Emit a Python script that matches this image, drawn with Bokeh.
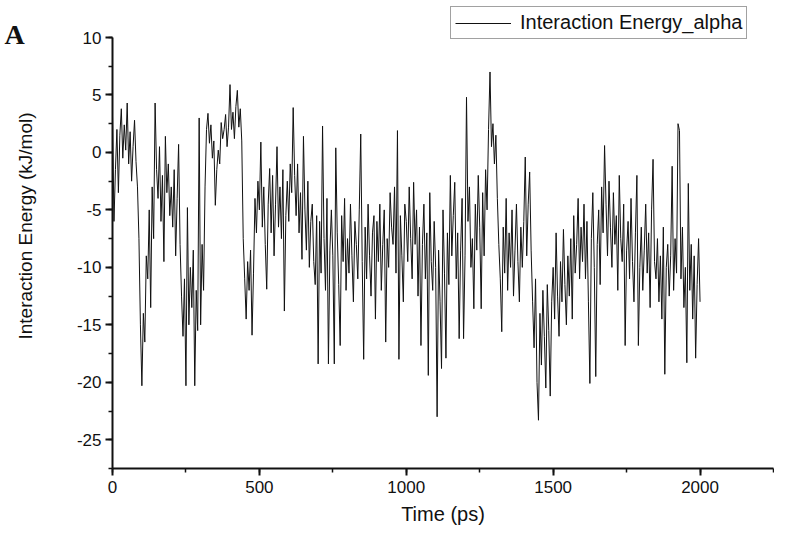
import math
from bokeh.plotting import figure
from bokeh.models import SingleIntervalTicker, Label, Range1d
from bokeh.embed import file_html
from bokeh.resources import INLINE

# Sample spacing of the trajectory read-out (ps)
step_ps = 5

# Interaction energy (kJ/mol), 10 values per 50 ps block
e_0000 = [3.2, -6.0, -1.5, 2.0, -3.5, 1.5, 3.8, -0.5, 2.4, 0.2]
e_0050 = [4.3, -1.0, 1.8, -2.5, 0.5, 2.8, -0.8, -3.0, -7.5, -15.0]
e_0100 = [-20.3, -14.0, -16.5, -9.0, -11.0, -5.0, -13.5, -3.0, -7.5, 4.3]
e_0150 = [-1.5, -4.0, 0.5, -6.0, -2.0, -9.5, 1.4, -3.5, -1.0, -5.5]
e_0200 = [-3.0, -6.5, -1.5, -9.0, -4.0, 0.7, -8.0, -12.5, -16.0, -11.0]
e_0250 = [-20.3, -4.8, -15.0, -10.0, -13.5, -8.5, -20.3, -12.0, -15.5, 3.0]
e_0300 = [-15.0, -8.0, -12.0, -3.0, 2.0, 3.4, 0.8, 2.4, -0.5, 1.0]
e_0350 = [-4.6, -1.5, 0.2, -1.0, 2.6, 1.2, 2.0, 3.3, 0.5, 2.2]
e_0400 = [5.9, 2.0, 3.5, 1.2, 4.0, 5.4, 2.2, 3.8, 1.0, -7.5]
e_0450 = [-11.0, -14.5, -9.5, -12.0, -8.5, -15.9, -10.5, -4.0, -7.0, -2.5]
e_0500 = [-5.0, 0.9, -6.5, -3.0, -8.0, -11.9, -4.5, -1.4, -7.0, -2.0]
e_0550 = [-9.0, -4.5, 0.5, -6.5, -3.0, -7.5, -1.5, -13.8, -5.5, -2.5]
e_0600 = [-6.0, -1.0, -3.5, 3.9, -2.0, -5.5, -1.0, -7.0, -3.5, -9.3]
e_0650 = [1.4, -5.0, -8.5, -2.5, -10.0, -6.0, -4.5, -9.5, -11.5, -5.5]
e_0700 = [-18.4, -6.0, -10.5, 2.3, -7.5, -12.0, -4.0, -18.4, -8.5, -5.0]
e_0750 = [-9.0, -18.4, 0.4, -7.0, -11.5, -16.8, -5.5, -9.5, -4.0, -12.0]
e_0800 = [-7.5, -10.5, -4.5, -9.0, -13.0, -6.0, -8.0, -11.0, -5.0, 1.6]
e_0850 = [-9.5, -18.0, -6.5, -11.0, -4.5, -9.0, -12.5, -7.0, -5.5, -14.5]
e_0900 = [-6.0, -9.5, -4.5, -12.0, -8.0, -5.0, -16.5, -7.5, -10.0, -3.5]
e_0950 = [-6.5, -8.0, -3.0, -10.5, 1.9, -18.0, -5.5, -9.0, -13.0, -4.5]
e_1000 = [-6.0, -9.5, -3.0, -7.5, -11.0, -2.6, -8.0, -5.0, -12.5, -6.5]
e_1050 = [-16.8, -8.0, -4.5, -11.0, -7.0, -19.4, -3.5, -9.5, -12.0, -6.0]
e_1100 = [-10.0, -23.0, -8.5, -13.0, -18.8, -5.0, -10.5, -17.9, -7.0, -11.5]
e_1150 = [-2.0, -9.0, -5.5, -2.6, -11.0, -7.0, -16.2, -8.5, -4.0, -16.2]
e_1200 = [-9.0, 4.8, -6.0, -3.0, -10.0, -7.5, -13.6, -4.5, -8.5, -2.0]
e_1250 = [-6.5, -13.6, -3.5, -9.0, -1.5, -5.0, 2.0, 7.0, 0.5, 2.5]
e_1300 = [-1.0, 1.5, -4.0, -8.0, -11.0, -15.6, -6.5, -10.5, -4.0, -12.0]
e_1350 = [-7.0, -10.0, -5.0, -12.5, -8.5, -4.5, -9.5, -13.0, -6.5, -10.0]
e_1400 = [-6.0, -0.4, -9.0, -4.5, -1.7, -8.5, -13.0, -17.0, -11.0, -20.0]
e_1450 = [-23.3, -14.0, -18.5, -12.0, -16.0, -20.5, -11.5, -15.5, -21.2, -13.0]
e_1500 = [-10.0, -14.5, -7.0, -12.5, -16.0, -9.5, -13.0, -6.7, -11.5, -15.0]
e_1550 = [-9.0, -12.5, -7.5, -14.5, -5.5, -10.5, -8.0, -4.0, -11.0, -6.5]
e_1600 = [-9.5, -4.5, -11.0, -6.0, -13.0, -20.1, -7.5, -3.5, -10.0, -19.5]
e_1650 = [-8.0, -5.0, -11.5, -3.0, -7.0, 0.6, -4.5, -9.0, -2.5, -6.5]
e_1700 = [-10.0, -3.5, -8.0, -5.5, -12.0, -2.0, -7.5, -9.5, -4.5, -16.8]
e_1750 = [-8.5, -6.0, -11.0, -4.0, -9.5, -13.0, -7.0, -2.0, -16.8, -10.0]
e_1800 = [-6.5, -12.0, -8.5, -4.5, -10.5, -7.0, -13.5, -5.0, -0.6, -9.5]
e_1850 = [-11.0, -7.5, -13.0, -9.0, -14.5, -6.5, -19.3, -10.0, -8.0, -12.5]
e_1900 = [-9.0, -1.2, -12.0, -7.5, -10.5, 2.5, 1.9, -11.0, -6.5, -13.5]
e_1950 = [-10.0, -18.3, -2.7, -12.0, -8.0, -14.5, -9.0, -17.9, -11.5, -7.5]
e_2000 = [-13.0]

energy = (e_0000 + e_0050 + e_0100 + e_0150 + e_0200 + e_0250 + e_0300 + e_0350
          + e_0400 + e_0450 + e_0500 + e_0550 + e_0600 + e_0650 + e_0700 + e_0750
          + e_0800 + e_0850 + e_0900 + e_0950 + e_1000 + e_1050 + e_1100 + e_1150
          + e_1200 + e_1250 + e_1300 + e_1350 + e_1400 + e_1450 + e_1500 + e_1550
          + e_1600 + e_1650 + e_1700 + e_1750 + e_1800 + e_1850 + e_1900 + e_1950
          + e_2000)
time_ps = [i * step_ps for i in range(len(energy))]

# axis extents and ticks
x_min, x_max = 0, 2250
y_min, y_max = -27.5, 10
y_tick_values = [-25, -20, -15, -10, -5, 0, 5, 10]

series_name = "Interaction Energy_alpha"
x_title = "Time (ps)"
y_title = "Interaction Energy (kJ/mol)"
panel_tag = "A"

FONT = "Liberation Sans"
INK = "#111111"

W, H = 774, 526
# frame position of the axes box inside the figure (pixels)
left_px, right_px, top_px, bottom_px = 112, 773, 37, 468
xs = (right_px - left_px) / (x_max - x_min)
ys = (bottom_px - top_px) / (y_max - y_min)
x_range = Range1d(x_min - left_px / xs, x_max + (W - right_px) / xs)
y_range = Range1d(y_min - (H - bottom_px) / ys, y_max + top_px / ys)

p = figure(width=W, height=H, output_backend="svg", toolbar_location=None,
           x_range=x_range, y_range=y_range,
           min_border_left=0, min_border_right=0, min_border_top=0,
           min_border_bottom=0)
p.outline_line_color = None
p.xgrid.visible = False
p.ygrid.visible = False
p.background_fill_color = "white"
p.border_fill_color = "white"

p.line(time_ps, energy, line_color=INK, line_width=1, legend_label=series_name)

p.xaxis.ticker = SingleIntervalTicker(interval=500, num_minor_ticks=2)
p.yaxis.ticker = SingleIntervalTicker(interval=5, num_minor_ticks=2)
p.xaxis.fixed_location = y_min
p.yaxis.fixed_location = x_min
p.xaxis.bounds = (x_min, x_max)
p.yaxis.bounds = (y_min, y_max)
p.yaxis.major_label_overrides = {v: str(v) for v in y_tick_values}

for ax in (p.xaxis[0], p.yaxis[0]):
    ax.axis_line_width = 2
    ax.axis_line_color = INK
    ax.major_tick_out = 7
    ax.major_tick_in = 0
    ax.minor_tick_out = 4
    ax.minor_tick_in = 0
    ax.major_tick_line_width = 2
    ax.major_tick_line_color = INK
    ax.minor_tick_line_width = 1.5
    ax.minor_tick_line_color = INK
    ax.major_label_text_font = FONT
    ax.major_label_text_font_size = "17px"
    ax.major_label_text_color = INK

p.yaxis.major_label_standoff = 4
p.xaxis.major_label_standoff = 5

xlab = Label(x=(x_min + x_max) / 2, y=y_min, y_offset=-45, text=x_title,
             text_align="center", text_baseline="middle", text_font=FONT,
             text_font_size="20px", text_color=INK)
p.add_layout(xlab)

ylab = Label(x=x_min, y=-6.4, x_offset=-87, text=y_title, angle=math.pi / 2,
             text_align="center", text_baseline="middle", text_font=FONT,
             text_font_size="19px", text_color=INK)
p.add_layout(ylab)

tag = Label(x=x_min, y=y_max, x_offset=-108, y_offset=3, text=panel_tag,
            text_align="left", text_baseline="alphabetic",
            text_font="Liberation Serif", text_font_style="bold",
            text_font_size="28px", text_color=INK)
p.add_layout(tag)

leg = p.legend[0]
leg.location = (450, 487)
leg.glyph_width = 56
leg.glyph_height = 18
leg.label_height = 18
leg.label_standoff = 9
leg.padding = 4
leg.margin = 0
leg.spacing = 0
leg.label_text_font = FONT
leg.label_text_font_size = "20px"
leg.label_text_color = INK
leg.border_line_color = "#444444"
leg.border_line_width = 1
leg.background_fill_color = "white"
leg.background_fill_alpha = 1.0

open("out.html", "w").write(file_html(p, INLINE))
